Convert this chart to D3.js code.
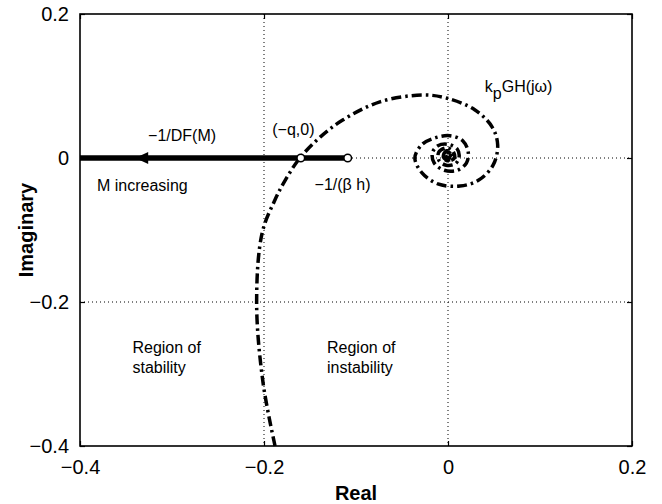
<!DOCTYPE html>
<html>
<head>
<meta charset="utf-8">
<script src="https://d3js.org/d3.v7.min.js"></script>
<style>
  body { margin: 0; background: #fff; }
  text { font-family: "Liberation Sans", Arial, Helvetica, sans-serif; fill: #000; }
</style>
</head>
<body>
<svg width="662" height="504"></svg>
<script>
// axis ticks
var xTicks = [-0.4, -0.2, 0, 0.2];
var yTicks = [-0.4, -0.2, 0, 0.2];
var gridX = [-0.2, 0];
var gridY = [-0.2, 0];

// kp*GH(jw) locus
var locusRe = [-0.188, -0.201, -0.208, -0.202, -0.188, -0.177, -0.161, -0.139, -0.114,
  -0.074, -0.027, -0.001, 0.029, 0.048, 0.054, 0.049, 0.033, 0.013, -0.011, -0.028,
  -0.036, -0.028, -0.014, 0.002, 0.016, 0.022, 0.020, 0.010, -0.004, -0.015, -0.017,
  -0.011, 0.000, 0.010, 0.012, 0.008, -0.002, -0.010, -0.010, -0.002, 0.005, 0.007,
  0.000, -0.005, -0.003, 0.003, 0.001, -0.004, -0.004, 0.000, 0.004, 0.001, -0.005,
  -0.002, 0.003, 0.001, -0.003];
var locusIm = [-0.4, -0.3125, -0.201, -0.104, -0.058, -0.031, 0, 0.029, 0.053,
  0.078, 0.0875, 0.083, 0.067, 0.043, 0.018, -0.010, -0.031, -0.039, -0.036, -0.021,
  0, 0.019, 0.028, 0.031, 0.024, 0.008, -0.007, -0.017, -0.017, -0.007, 0.007,
  0.017, 0.019, 0.0125, 0.001, -0.008, -0.010, -0.003, 0.008, 0.014, 0.010, 0,
  -0.004, 0.001, 0.008, 0.006, -0.001, 0, 0.007, 0.010, 0.004, -0.003, 0.001,
  0.010, 0.007, 0, 0.003];

// describing function line -1/DF(M)
var dfStart = -0.4;
var betaH = -0.109;   // -1/(beta h)
var qPoint = -0.16;   // (-q, 0)
var arrowAt = -0.34;

var svg = d3.select("svg"),
    margin = {top: 14, right: 30, bottom: 58, left: 80},
    width = 552,
    height = 432;

var x = d3.scaleLinear().domain([-0.4, 0.2]).range([0, width]);
var y = d3.scaleLinear().domain([-0.4, 0.2]).range([height, 0]);

var g = svg.append("g")
    .attr("transform", "translate(" + margin.left + "," + margin.top + ")");

var fmt = function(d) { return d === 0 ? "0" : d3.format(".1f")(d).replace("-", "\u2212"); };

// dotted grid
g.selectAll(".gx").data(gridX).enter().append("line")
    .attr("x1", function(d) { return x(d); })
    .attr("x2", function(d) { return x(d); })
    .attr("y1", 0).attr("y2", height)
    .attr("stroke", "#000").attr("stroke-width", 1)
    .attr("stroke-dasharray", "1,3");
g.selectAll(".gy").data(gridY).enter().append("line")
    .attr("y1", function(d) { return y(d); })
    .attr("y2", function(d) { return y(d); })
    .attr("x1", 0).attr("x2", width)
    .attr("stroke", "#000").attr("stroke-width", 1)
    .attr("stroke-dasharray", "1,3");

// axes (inward ticks, matlab style)
g.append("g")
    .attr("transform", "translate(0," + height + ")")
    .call(d3.axisBottom(x).tickValues(xTicks).tickSizeInner(-5).tickSizeOuter(0).tickPadding(14).tickFormat(fmt))
    .call(function(a) { a.select(".domain").remove(); });
g.append("g")
    .call(d3.axisTop(x).tickValues(xTicks).tickSizeInner(-5).tickSizeOuter(0).tickFormat(""))
    .call(function(a) { a.select(".domain").remove(); });
g.append("g")
    .call(d3.axisLeft(y).tickValues(yTicks).tickSizeInner(-5).tickSizeOuter(0).tickPadding(11).tickFormat(fmt))
    .call(function(a) { a.select(".domain").remove(); });
g.append("g")
    .attr("transform", "translate(" + width + ",0)")
    .call(d3.axisRight(y).tickValues(yTicks).tickSizeInner(-5).tickSizeOuter(0).tickFormat(""))
    .call(function(a) { a.select(".domain").remove(); });

g.selectAll(".tick text")
    .attr("font-size", 20)
    .attr("font-family", "Liberation Sans, Arial, sans-serif");
g.selectAll(".tick line").attr("stroke-width", 1.2);

// box
g.append("rect")
    .attr("width", width).attr("height", height)
    .attr("fill", "none").attr("stroke", "#000").attr("stroke-width", 1.6);

// -1/DF(M) thick line
g.append("line")
    .attr("x1", x(dfStart)).attr("x2", x(betaH))
    .attr("y1", y(0)).attr("y2", y(0))
    .attr("stroke", "#000").attr("stroke-width", 5.5);

// arrow head pointing left
g.append("path")
    .attr("d", "M" + x(arrowAt) + "," + y(0) + "l13,-6l0,12z")
    .attr("fill", "#000");

// locus
var pts = locusRe.map(function(d, i) { return [d, locusIm[i]]; });
var line = d3.line()
    .x(function(d) { return x(d[0]); })
    .y(function(d) { return y(d[1]); })
    .curve(d3.curveCatmullRom.alpha(0.5));
g.append("path")
    .datum(pts)
    .attr("d", line)
    .attr("fill", "none")
    .attr("stroke", "#000")
    .attr("stroke-width", 3.5)
    .attr("stroke-dasharray", "10,4,2.5,4");

// marker circles
g.selectAll(".pt").data([qPoint, betaH]).enter().append("circle")
    .attr("cx", function(d) { return x(d); })
    .attr("cy", y(0))
    .attr("r", 3.8)
    .attr("fill", "#fff")
    .attr("stroke", "#000")
    .attr("stroke-width", 1.5);

// annotations
function label(tx, ty, s) {
  return g.append("text")
      .attr("x", x(tx)).attr("y", y(ty))
      .attr("font-size", 16)
      .text(s);
}
label(-0.326, 0.024, "\u22121/DF(M)");
label(-0.3815, -0.046, "M increasing");
label(-0.191, 0.032, "(\u2212q,0)");
label(-0.145, -0.044, "\u22121/(\u03b2 h)");
label(-0.343, -0.271, "Region of");
label(-0.343, -0.299, "stability");
label(-0.1315, -0.271, "Region of");
label(-0.1315, -0.299, "instability");

var kp = g.append("text")
    .attr("x", x(0.040)).attr("y", y(0.092))
    .attr("font-size", 16);
kp.append("tspan").text("k");
kp.append("tspan").attr("dy", 7).text("p");
kp.append("tspan").attr("dy", -7).text("GH(j\u03c9)");

// axis titles
svg.append("text")
    .attr("x", margin.left + width / 2)
    .attr("y", 500)
    .attr("text-anchor", "middle")
    .attr("font-size", 20)
    .attr("font-weight", "bold")
    .text("Real");
svg.append("text")
    .attr("transform", "translate(33," + (margin.top + height / 2) + ") rotate(-90)")
    .attr("text-anchor", "middle")
    .attr("font-size", 20)
    .attr("font-weight", "bold")
    .text("Imaginary");
</script>
</body>
</html>
